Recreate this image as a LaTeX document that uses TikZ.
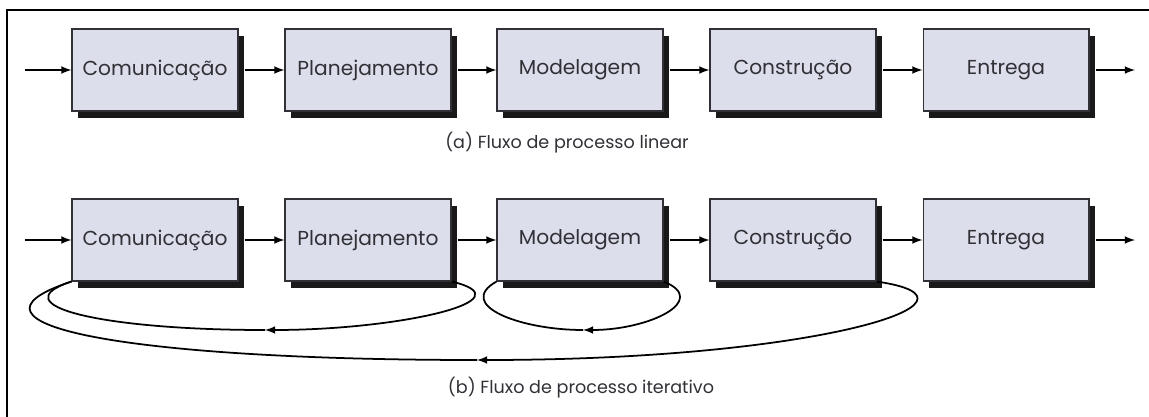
\documentclass[tikz,border=0pt]{standalone}
\usepackage{fontspec}
\setmainfont{Poppins}
\usetikzlibrary{shadows}
\definecolor{boxfill}{HTML}{DCDFEB}
\definecolor{inkgray}{HTML}{303036}
\begin{document}
\begin{tikzpicture}[x=0.02cm, y=-0.02cm, >=latex, line width=1pt,
  stage node/.style={rectangle,draw=inkgray,line width=0.6pt,fill=boxfill,text=inkgray,minimum width=3.32cm,minimum height=1.64cm,inner sep=0pt,
    font=\fontsize{11.5}{13}\selectfont,drop shadow={shadow xshift=0.12cm,shadow yshift=-0.14cm,fill=black!90,opacity=1}},
  caption node/.style={text=inkgray,font=\fontsize{10}{12}\selectfont}]
\useasboundingbox (0,0) rectangle (1149,416);
\begin{scope}
\clip (0,0) rectangle (1149,416);
\draw[line width=1.2pt] (7,10) rectangle (1170,440);
\end{scope}
% (a) linear
\begin{scope}
\node[stage node] (a1) at (155,70) {Comunicação};
\node[stage node] (a2) at (368,70) {Planejamento};
\node[stage node] (a3) at (580,70) {Modelagem};
\node[stage node] (a4) at (793,70) {Construção};
\node[stage node] (a5) at (1006,70) {Entrega};
\coordinate (ain) at (25,70);
\coordinate (aout) at (1135,70);
\node[caption node] (acap) at (567,143) {(a) Fluxo de processo linear};
\end{scope}
\begin{scope}[->]
\draw  (ain) -- (a1);
\draw[shorten <=0.12cm]  (a1) -- (a2);
\draw[shorten <=0.12cm]  (a2) -- (a3);
\draw[shorten <=0.12cm]  (a3) -- (a4);
\draw[shorten <=0.12cm]  (a4) -- (a5);
\draw[shorten <=0.12cm]  (a5) -- (aout);
\end{scope}
% (b) iterativo
\begin{scope}
\node[stage node] (b1) at (155,240) {Comunicação};
\node[stage node] (b2) at (368,240) {Planejamento};
\node[stage node] (b3) at (580,240) {Modelagem};
\node[stage node] (b4) at (793,240) {Construção};
\node[stage node] (b5) at (1006,240) {Entrega};
\coordinate (bin) at (25,240);
\coordinate (bout) at (1135,240);
\coordinate (back1) at (265,330);
\coordinate (back2) at (583,330);
\coordinate (back3) at (477,360);
\node[caption node] (bcap) at (581,388) {(b) Fluxo de processo iterativo};
\end{scope}
\begin{scope}[->]
\draw  (bin) -- (b1);
\draw[shorten <=0.12cm]  (b1) -- (b2);
\draw[shorten <=0.12cm]  (b2) -- (b3);
\draw[shorten <=0.12cm]  (b3) -- (b4);
\draw[shorten <=0.12cm]  (b4) -- (b5);
\draw[shorten <=0.12cm]  (b5) -- (bout);
\end{scope}
\begin{scope}
\draw[->] (b2.south east) .. controls (530,300) and (400,330) .. (back1);
\draw (back1) .. controls (100,330) and (0,305) .. (b1.south west);
\draw[->] (b3.south east) .. controls (710,300) and (650,330) .. (back2);
\draw (back2) .. controls (520,330) and (455,305) .. (b3.south west);
\draw[->] (b4.south east) .. controls (1005,300) and (820,360) .. (back3);
\draw (back3) .. controls (130,360) and (-60,325) .. (b1.south west);
\end{scope}
\end{tikzpicture}
\end{document}
